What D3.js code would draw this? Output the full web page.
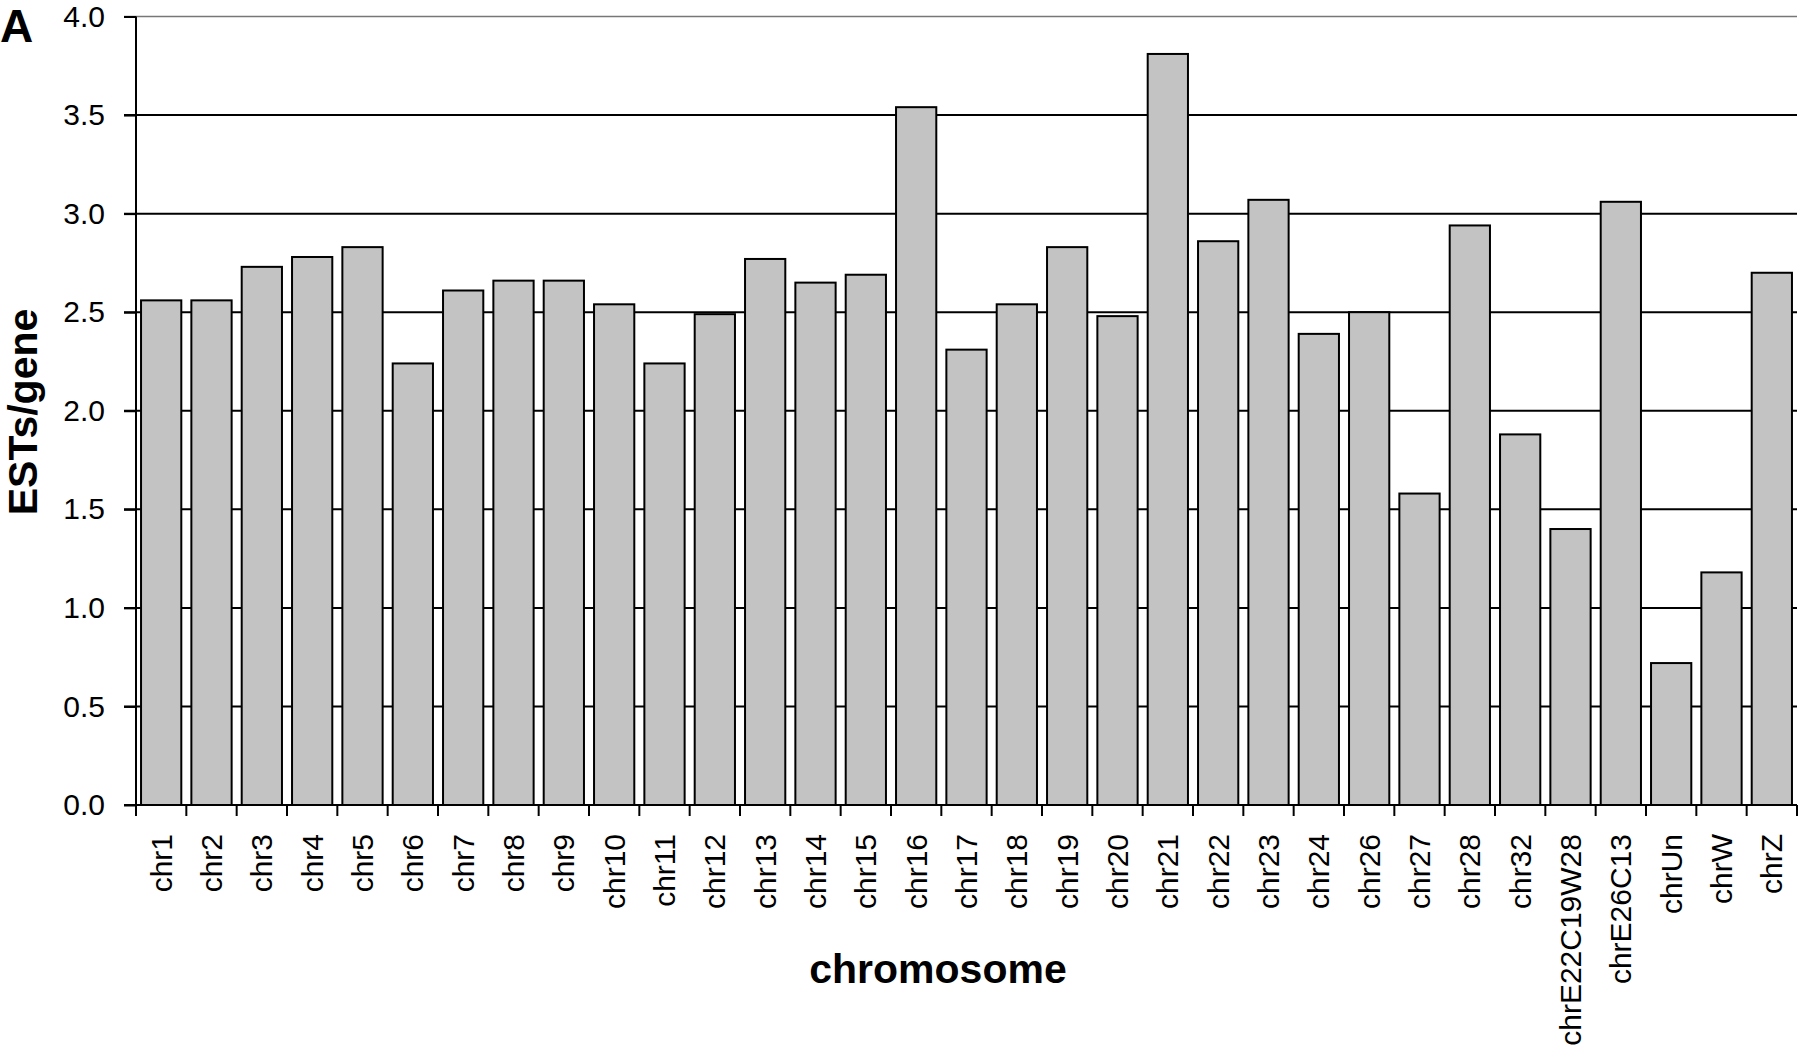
<!DOCTYPE html>
<html>
<head>
<meta charset="utf-8">
<script src="https://d3js.org/d3.v7.min.js"></script>
<style>
  html, body { margin: 0; padding: 0; background: #fff; }
  svg { display: block; }
  text { font-family: "Liberation Sans", Arial, sans-serif; fill: #000; }
</style>
</head>
<body>
<svg id="chart" width="1800" height="1055"></svg>
<script>
const categories = ["chr1","chr2","chr3","chr4","chr5","chr6","chr7","chr8","chr9","chr10",
  "chr11","chr12","chr13","chr14","chr15","chr16","chr17","chr18","chr19","chr20",
  "chr21","chr22","chr23","chr24","chr26","chr27","chr28","chr32","chrE22C19W28","chrE26C13",
  "chrUn","chrW","chrZ"];
const values = [2.56,2.56,2.73,2.78,2.83,2.24,2.61,2.66,2.66,2.54,
  2.24,2.49,2.77,2.65,2.69,3.54,2.31,2.54,2.83,2.48,
  3.81,2.86,3.07,2.39,2.50,1.58,2.94,1.88,1.40,3.06,
  0.72,1.18,2.70];
const yTicks = [0,0.5,1,1.5,2,2.5,3,3.5,4];
const yTitle = "ESTs/gene";
const xTitle = "chromosome";
const panelLabel = "A";

(function () {
const svg = d3.select("#chart");
const mLeft = 136, mRight = 1797, mTop = 16.5, mBottom = 805;

const x = d3.scaleBand().domain(categories).range([mLeft, mRight]).paddingInner(0.2).paddingOuter(0.1);
const y = d3.scaleLinear().domain([0, 4]).range([mBottom, mTop]);
const step = x.step();

// gridlines
svg.append("g").selectAll("line").data(yTicks.filter(d => d > 0)).join("line")
  .attr("x1", mLeft - 12).attr("x2", mRight)
  .attr("y1", d => y(d)).attr("y2", d => y(d))
  .attr("stroke", d => d === 4 ? "#777" : "#000")
  .attr("stroke-width", d => d === 4 ? 1.5 : 2);

// bars
svg.append("g").selectAll("rect").data(categories).join("rect")
  .attr("x", d => x(d))
  .attr("width", x.bandwidth())
  .attr("y", (d, i) => y(values[i]))
  .attr("height", (d, i) => y(0) - y(values[i]))
  .attr("fill", "#c3c3c3")
  .attr("stroke", "#000")
  .attr("stroke-width", 2);

// y axis
const yAxis = d3.axisLeft(y).tickValues(yTicks).tickFormat(d3.format(".1f")).tickSize(12).tickPadding(19);
const gy = svg.append("g").attr("transform", `translate(${mLeft},0)`).call(yAxis);
gy.select(".domain").attr("stroke", "#000").attr("stroke-width", 2).attr("d", `M0,${mTop}V${mBottom}`);
gy.selectAll(".tick line").attr("stroke", "#000").attr("stroke-width", 2);
gy.selectAll(".tick text").attr("font-size", 30).attr("font-family", "Liberation Sans, Arial, sans-serif").attr("fill", "#000");

// x axis line
svg.append("line").attr("x1", mLeft - 12).attr("x2", mRight).attr("y1", mBottom).attr("y2", mBottom)
  .attr("stroke", "#000").attr("stroke-width", 2);
// x ticks at band boundaries
const boundaries = categories.map(d => x(d) - x.paddingOuter() * step).concat([mRight]);
svg.append("g").selectAll("line").data(boundaries).join("line")
  .attr("x1", d => d).attr("x2", d => d).attr("y1", mBottom).attr("y2", mBottom + 11)
  .attr("stroke", "#000").attr("stroke-width", 2);

// x labels
svg.append("g").selectAll("text").data(categories).join("text")
  .attr("transform", d => `translate(${x(d) + x.bandwidth() / 2},834) rotate(-90)`)
  .attr("text-anchor", "end")
  .attr("dy", "0.35em")
  .attr("font-size", 30)
  .text(d => d);

// titles
svg.append("text")
  .attr("transform", `translate(37,412) rotate(-90)`)
  .attr("text-anchor", "middle")
  .attr("font-size", 41).attr("font-weight", "bold")
  .text(yTitle);
svg.append("text")
  .attr("x", 938).attr("y", 983)
  .attr("text-anchor", "middle")
  .attr("font-size", 41).attr("font-weight", "bold")
  .text(xTitle);
svg.append("text")
  .attr("x", 0).attr("y", 42)
  .attr("font-size", 46).attr("font-weight", "bold")
  .text(panelLabel);
})();
</script>
</body>
</html>
